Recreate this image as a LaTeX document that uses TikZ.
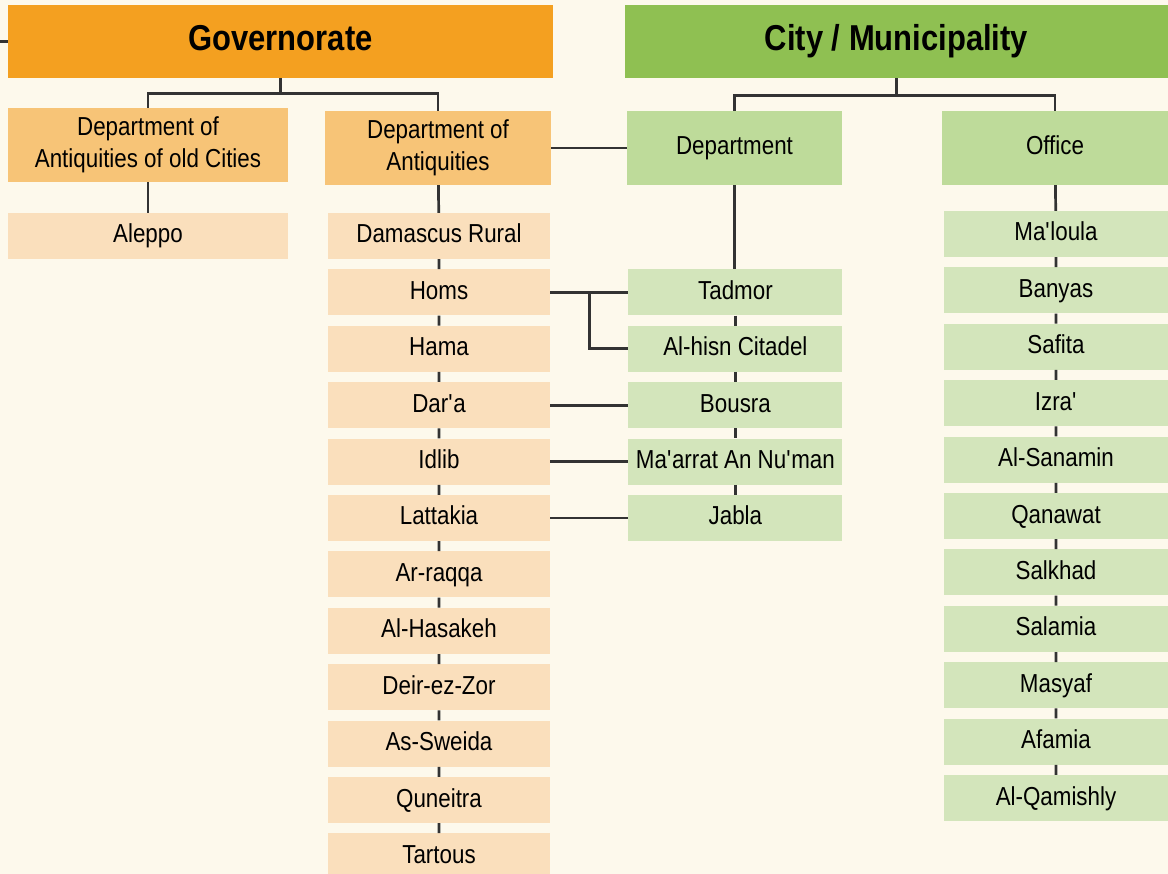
\documentclass[tikz,border=0pt]{standalone}
\usepackage{fontspec}
\setmainfont[FakeStretch=0.86]{Liberation Sans}
\usepackage{tikz}
\usetikzlibrary{calc,positioning}
\definecolor{bgcol}{HTML}{FDF9EC}
\definecolor{govtop}{HTML}{F4A020}
\definecolor{govmid}{HTML}{F7C477}
\definecolor{govlight}{HTML}{FADFBC}
\definecolor{citytop}{HTML}{8FC052}
\definecolor{citymid}{HTML}{BEDB9A}
\definecolor{citylight}{HTML}{D3E5BB}
\definecolor{linecol}{HTML}{333333}
\tikzstyle{title} = [rectangle, inner sep=0pt, minimum height=73pt, text height=26pt, text depth=7pt, font=\fontsize{36}{40}\selectfont\bfseries]
\tikzstyle{head} = [rectangle, inner sep=0pt, minimum height=74pt, align=center, font=\fontsize{26}{32}\selectfont]
\tikzstyle{govitem} = [rectangle, inner sep=0pt, fill=govlight, minimum width=222pt, minimum height=46pt, text height=19pt, text depth=5pt, font=\fontsize{26}{30}\selectfont]
\tikzstyle{cityitem} = [rectangle, inner sep=0pt, fill=citylight, minimum width=214pt, minimum height=46pt, text height=19pt, text depth=5pt, font=\fontsize{26}{30}\selectfont]
\tikzstyle{conn} = [line width=2.7pt, draw=linecol]

\begin{document}
\begin{tikzpicture}[x=1pt,y=-1pt,node distance=10pt]
\fill[bgcol] (0,0) rectangle (1168,874);
\useasboundingbox (0,0) rectangle (1168,874);
\node (gov) [title, fill=govtop, minimum width=545pt] at (280.5,41.5) {Governorate};
\node (city) [title, fill=citytop, minimum width=543pt] at (896.5,41.5) {City / Municipality};
\coordinate (stub) at (0,41.5);
\node (oldc) [head, fill=govmid, minimum width=280pt] at (148,145) {Department of\\Antiquities of old Cities};
\node (anti) [head, fill=govmid, minimum width=226pt] at (438,148) {Department of\\Antiquities};
\node (dept) [head, fill=citymid, minimum width=215pt, text height=19pt, text depth=5pt] at (734.5,148) {Department};
\node (office) [head, fill=citymid, minimum width=226pt, text height=19pt, text depth=5pt] at (1055,148) {Office};
\node (aleppo) [govitem, minimum width=280pt] at (148,236) {Aleppo};
\node (damr) [govitem] at (439,236) {Damascus Rural};
\node (homs) [govitem, below=of damr] {Homs};
\node (hama) [govitem, below=of homs] {Hama};
\node (dara) [govitem, below=of hama] {Dar\textquotesingle a};
\node (idlib) [govitem, below=of dara] {Idlib};
\node (latt) [govitem, below=of idlib] {Lattakia};
\node (raqqa) [govitem, below=of latt] {Ar-raqqa};
\node (hasa) [govitem, below=of raqqa] {Al-Hasakeh};
\node (deir) [govitem, below=of hasa] {Deir-ez-Zor};
\node (swei) [govitem, below=of deir] {As-Sweida};
\node (qune) [govitem, below=of swei] {Quneitra};
\node (tart) [govitem, below=of qune] {Tartous};
\node (tadmor) [cityitem, right=78pt of homs] {Tadmor};
\node (hisn) [cityitem, below=of tadmor] {Al-hisn Citadel};
\node (bousra) [cityitem, below=of hisn] {Bousra};
\node (maarrat) [cityitem, below=of bousra] {Ma\textquotesingle arrat An Nu\textquotesingle man};
\node (jabla) [cityitem, below=of maarrat] {Jabla};
\node (maloula) [cityitem, minimum width=224pt] at (1056,234) {Ma\textquotesingle loula};
\node (banyas) [cityitem, minimum width=224pt, below=of maloula] {Banyas};
\node (safita) [cityitem, minimum width=224pt, below=of banyas] {Safita};
\node (izra) [cityitem, minimum width=224pt, below=of safita] {Izra\textquotesingle};
\node (sanamin) [cityitem, minimum width=224pt, below=of izra] {Al-Sanamin};
\node (qanawat) [cityitem, minimum width=224pt, below=of sanamin] {Qanawat};
\node (salkhad) [cityitem, minimum width=224pt, below=of qanawat] {Salkhad};
\node (salamia) [cityitem, minimum width=224pt, below=of salkhad] {Salamia};
\node (masyaf) [cityitem, minimum width=224pt, below=of salamia] {Masyaf};
\node (afamia) [cityitem, minimum width=224pt, below=of masyaf] {Afamia};
\node (qamish) [cityitem, minimum width=224pt, below=of afamia] {Al-Qamishly};
\draw [conn] (stub) -- (gov.west);
\draw [conn] (gov.south) -- ++(0,15) -| (oldc.north);
\draw [conn] (gov.south) -- ++(0,15) -| (anti.north);
\draw [conn] (city.south) -- ++(0,17) -| (dept.north);
\draw [conn] (city.south) -- ++(0,17) -| (office.north);
\draw [conn] (oldc) -- (aleppo);
\draw [conn] (anti) -- (damr) -- (homs) -- (hama) -- (dara) -- (idlib) -- (latt) -- (raqqa) -- (hasa) -- (deir) -- (swei) -- (qune) -- (tart);
\draw [conn] (anti.east) -- (dept.west);
\draw [conn] (dept.south) -- (dept.south |- tadmor.north);
\draw [conn] (tadmor) -- (hisn) -- (bousra) -- (maarrat) -- (jabla);
\draw [conn] (office) -- (maloula) -- (banyas) -- (safita) -- (izra) -- (sanamin) -- (qanawat) -- (salkhad) -- (salamia) -- (masyaf) -- (afamia) -- (qamish);
\draw [conn] (homs.east) -- (tadmor.west);
\draw [conn] ($(homs.east)!.5!(tadmor.west)$) |- (hisn.west);
\draw [conn] (dara.east) -- (bousra.west);
\draw [conn] (idlib.east) -- (maarrat.west);
\draw [conn] (latt.east) -- (jabla.west);
\end{tikzpicture}
\end{document}
